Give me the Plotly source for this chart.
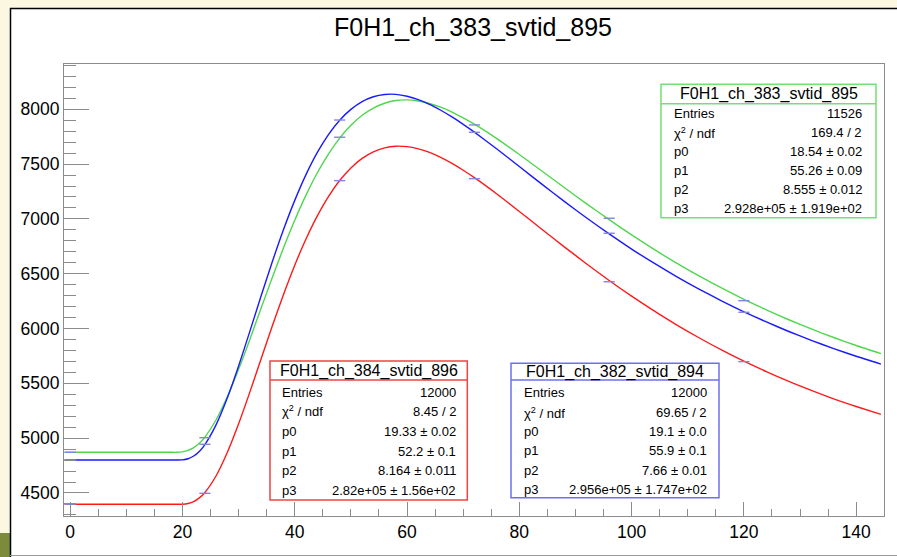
import plotly.graph_objects as go

# ---------------- data ----------------
TITLE = "F0H1_ch_383_svtid_895"

# fitted-function curve samples (x in time units, y in ADC counts)
curve_x = [-1, 10, 18, 19, 20, 21, 22, 23, 24, 26, 28, 30, 32, 34, 36, 38, 40, 42, 44, 46,
           48, 50, 52, 54, 56, 58, 60, 62, 64, 66, 68, 70, 72, 76, 80, 84, 88, 92, 96, 100,
           104, 108, 112, 116, 120, 124, 128, 132, 136, 140, 144.4]

green_curve = [4871, 4871, 4871, 4871, 4875, 4888, 4914, 4953, 5010, 5168, 5380, 5629, 5901,
               6185, 6466, 6737, 6988, 7217, 7419, 7592, 7737, 7854, 7945, 8011, 8055, 8080,
               8086, 8076, 8053, 8019, 7975, 7922, 7864, 7732, 7587, 7437, 7286, 7137, 6993,
               6854, 6722, 6597, 6480, 6370, 6267, 6170, 6080, 5996, 5918, 5845, 5771]

blue_curve = [4801, 4801, 4801, 4801, 4802, 4812, 4837, 4879, 4942, 5123, 5368, 5658, 5974,
              6296, 6609, 6903, 7169, 7404, 7604, 7769, 7900, 7999, 8070, 8114, 8135, 8136,
              8119, 8088, 8045, 7991, 7930, 7863, 7791, 7638, 7478, 7317, 7160, 7008, 6863,
              6725, 6596, 6474, 6360, 6253, 6153, 6060, 5973, 5892, 5817, 5747, 5676]

red_curve = [4397, 4397, 4397, 4397, 4397, 4404, 4421, 4455, 4505, 4657, 4871, 5131, 5420,
             5722, 6023, 6311, 6578, 6817, 7026, 7204, 7350, 7465, 7552, 7612, 7648, 7663,
             7659, 7639, 7606, 7561, 7506, 7444, 7376, 7227, 7068, 6906, 6745, 6589, 6438,
             6295, 6161, 6034, 5916, 5805, 5702, 5607, 5518, 5436, 5359, 5289, 5217]

# histogram samples (6 samples, 24 units apart)
sample_x = [0, 24, 48, 72, 96, 120]
green_samples = [4871, 5004, 7745, 7857, 7006, 6254]
blue_samples = [4801, 4944, 7902, 7790, 6869, 6148]
red_samples = [4397, 4497, 7349, 7367, 6427, 5698]
bin_half_width = 1.0

# stat boxes
stat_labels = ["Entries", "χ<sup>2</sup> / ndf", "p0", "p1", "p2", "p3"]
green_title = "F0H1_ch_383_svtid_895"
green_stats = ["11526", "169.4 / 2", "18.54 ± 0.02", "55.26 ± 0.09", "8.555 ± 0.012",
               "2.928e+05 ± 1.919e+02"]
red_title = "F0H1_ch_384_svtid_896"
red_stats = ["12000", "8.45 / 2", "19.33 ± 0.02", "52.2 ± 0.1", "8.164 ± 0.011",
             "2.82e+05 ± 1.56e+02"]
blue_title = "F0H1_ch_382_svtid_894"
blue_stats = ["12000", "69.65 / 2", "19.1 ± 0.0", "55.9 ± 0.1", "7.66 ± 0.01",
              "2.956e+05 ± 1.747e+02"]

# ---------------- layout helpers ----------------
W, H = 897, 557
ML, MR, MT, MB = 64, 13, 64, 41
PW, PH = W - ML - MR, H - MT - MB
FONT = "Liberation Sans, Arial, Helvetica, sans-serif"


def px2x(px):
    return (px - ML) / PW


def py2y(py):
    return (H - MB - py) / PH


GREEN = "#4fd64f"
BLUE = "#1a1aff"
RED = "#ff1a1a"
ERR = "#8585dd"
AXIS = "#8c8c8c"

fig = go.Figure()

for yv, col in [(green_curve, GREEN), (blue_curve, BLUE), (red_curve, RED)]:
    fig.add_trace(go.Scatter(x=curve_x, y=yv, mode="lines",
                             line=dict(color=col, width=1.4, shape="spline", smoothing=0.6),
                             hoverinfo="skip", showlegend=False))

for yv in [green_samples, blue_samples, red_samples]:
    fig.add_trace(go.Scatter(x=sample_x, y=yv, mode="markers",
                             marker=dict(size=1, color="rgba(0,0,0,0)"),
                             error_x=dict(type="constant", value=bin_half_width, width=0,
                                          thickness=1.4, color=ERR),
                             hoverinfo="skip", showlegend=False))

shapes = []
annotations = []

# canvas / pad decorations
shapes.append(dict(type="rect", xref="paper", yref="paper", layer="below",
                   x0=px2x(10), x1=px2x(W + 5), y0=py2y(H + 5), y1=py2y(8),
                   fillcolor="white", line=dict(width=0)))
shapes.append(dict(type="rect", xref="paper", yref="paper", layer="below",
                   x0=px2x(-5), x1=px2x(10), y0=py2y(H + 5), y1=py2y(533),
                   fillcolor="#7c8a3c", line=dict(width=0)))
shapes.append(dict(type="line", xref="paper", yref="paper", layer="below",
                   x0=px2x(10.5), x1=px2x(10.5), y0=py2y(H + 5), y1=py2y(8),
                   line=dict(color="black", width=1.5)))
shapes.append(dict(type="line", xref="paper", yref="paper", layer="below",
                   x0=px2x(10), x1=px2x(W + 5), y0=py2y(8.5), y1=py2y(8.5),
                   line=dict(color="black", width=1.5)))
shapes.append(dict(type="line", xref="paper", yref="paper", layer="below",
                   x0=px2x(10), x1=px2x(W + 5), y0=py2y(555.5), y1=py2y(555.5),
                   line=dict(color="#9a9a9a", width=1.2)))

annotations.append(dict(text=TITLE, xref="paper", yref="paper", x=px2x(472.5), y=py2y(27),
                        xanchor="center", yanchor="middle", showarrow=False,
                        font=dict(family=FONT, size=25, color="black")))


def stat_box(x0, x1, y0, y1, ysep, title, ytitle, rows_y, lx, rx, values, col):
    shapes.append(dict(type="rect", xref="paper", yref="paper", layer="above",
                       x0=px2x(x0), x1=px2x(x1), y0=py2y(y1), y1=py2y(y0),
                       fillcolor="white", line=dict(color=col, width=1.5)))
    shapes.append(dict(type="line", xref="paper", yref="paper", layer="above",
                       x0=px2x(x0), x1=px2x(x1), y0=py2y(ysep), y1=py2y(ysep),
                       line=dict(color=col, width=1.5)))
    annotations.append(dict(text=title, xref="paper", yref="paper",
                            x=px2x((x0 + x1) / 2), y=py2y(ytitle),
                            xanchor="center", yanchor="middle", showarrow=False,
                            font=dict(family=FONT, size=16, color="black")))
    for lab, val, yy in zip(stat_labels, values, rows_y):
        annotations.append(dict(text=lab, xref="paper", yref="paper", x=px2x(lx), y=py2y(yy),
                                xanchor="left", yanchor="middle", showarrow=False,
                                font=dict(family=FONT, size=13, color="black")))
        annotations.append(dict(text=val, xref="paper", yref="paper", x=px2x(rx), y=py2y(yy),
                                xanchor="right", yanchor="middle", showarrow=False,
                                font=dict(family=FONT, size=13, color="black")))


stat_box(661, 876, 84.3, 217.7, 103.7, green_title, 94,
         [114, 132.5, 151.2, 170, 189.3, 208.3], 671.5, 864, green_stats, "#77dd77")
stat_box(270, 467.3, 361, 500, 380, red_title, 370.5,
         [392, 411.2, 431, 451.2, 470.8, 490], 279.5, 458, red_stats, "#ee4444")
stat_box(511, 719, 363.3, 497.7, 380, blue_title, 372,
         [392.7, 412.5, 431.7, 450.7, 470, 489.3], 521.5, 709, blue_stats, "#6f6fee")

fig.update_layout(
    width=W, height=H,
    margin=dict(l=ML, r=MR, t=MT, b=MB, pad=0),
    paper_bgcolor="#fcf7e1",
    plot_bgcolor="white",
    shapes=shapes,
    annotations=annotations,
    showlegend=False,
    xaxis=dict(range=[-1.1, 144.95], showline=True, linecolor=AXIS, linewidth=1, mirror=True,
               ticks="inside", ticklen=14, tickwidth=1, tickcolor=AXIS, dtick=20, tick0=0,
               showgrid=False, zeroline=False,
               tickfont=dict(family=FONT, size=17.5, color="black"),
               minor=dict(ticks="inside", ticklen=7, dtick=5, tick0=0, tickcolor=AXIS,
                          showgrid=False)),
    yaxis=dict(range=[4290, 8413], showline=True, linecolor=AXIS, linewidth=1, mirror=True,
               ticks="inside", ticklen=25, tickwidth=1, tickcolor=AXIS, dtick=500, tick0=0,
               showgrid=False, zeroline=False,
               tickfont=dict(family=FONT, size=17.5, color="black"),
               minor=dict(ticks="inside", ticklen=12, dtick=100, tick0=0, tickcolor=AXIS,
                          showgrid=False)),
)

fig.write_html("out.html")
